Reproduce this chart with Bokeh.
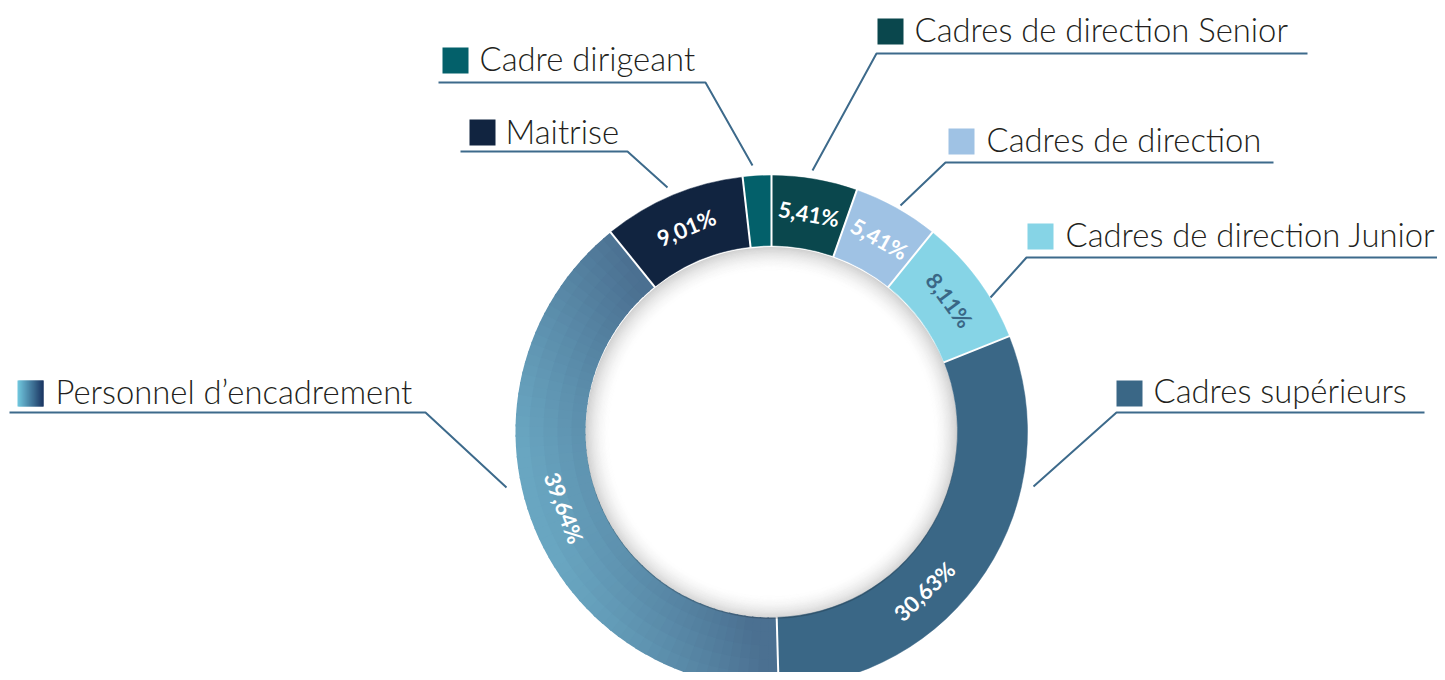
import math
from bokeh.plotting import figure
from bokeh.models import Range1d
from bokeh.core.properties import value
from bokeh.embed import file_html
from bokeh.resources import INLINE

# ---------------- data ----------------
categories = ["Cadres de direction Senior", "Cadres de direction", "Cadres de direction Junior",
              "Cadres supérieurs", "Personnel d\u2019encadrement", "Maitrise", "Cadre dirigeant"]
shares = [5.41, 5.41, 8.11, 30.63, 39.64, 9.01, 1.80]
pct_labels = ["5,41%", "5,41%", "8,11%", "30,63%", "39,64%", "9,01%", ""]

# ---------------- styles ----------------
colors = ["#0a474d", "#9fc2e4", "#86d4e6", "#3a6786", "#5a8cab", "#112440", "#03606a"]
pct_colors = ["white", "white", "#3a6786", "white", "white", "white", "white"]
GRADIENT_INDEX = 4
GRAD_LIGHT = (0x69, 0xa6, 0xc1)
GRAD_DARK = (0x4b, 0x70, 0x91)
SQ_LIGHT = (0x70, 0xc6, 0xdd)
SQ_DARK = (0x1b, 0x36, 0x63)
LINE_COLOR = "#3d6a8b"
TEXT_COLOR = "#231f20"

# ---------------- layout (screen pixels, y down) ----------------
W, H = 1437, 672
CX, CY = 771, 431
R_OUT, R_IN, R_LAB = 256, 186, 221
LABEL_ANGLE_SHIFT = [0, 0, 0, 13, 0, 0, 0]
TEXT_DY = -14  # baseline correction of the svg text renderer
LEGEND = [
    dict(sq=(877, 18), tx=914, ty=43, lead=[(812, 170), (876, 53), (1307, 53)]),
    dict(sq=(948, 128), tx=986, ty=153, lead=[(900, 205), (945, 162), (1273, 162)]),
    dict(sq=(1027, 223), tx=1065, ty=248, lead=[(990, 297), (1026, 257), (1445, 257)]),
    dict(sq=(1116, 380), tx=1153, ty=404, lead=[(1033, 486), (1116, 412), (1424, 412)]),
    dict(sq=(17, 380), tx=55, ty=405, lead=[(506, 487), (425, 412), (9, 412)]),
    dict(sq=(469, 119), tx=505, ty=145, lead=[(667, 187), (627, 151), (460, 151)]),
    dict(sq=(442, 47), tx=479, ty=72, lead=[(752, 165), (705, 82), (438, 82)]),
]
SQ = 26

p = figure(width=W, height=H, output_backend="svg", toolbar_location=None,
           x_axis_type=None, y_axis_type=None,
           x_range=Range1d(0, W), y_range=Range1d(-H, 0),
           min_border=0, outline_line_color=None)
p.grid.visible = False
p.background_fill_color = "white"
p.border_fill_color = "white"


def lerp(c1, c2, u):
    u = max(0.0, min(1.0, u))
    return "#%02x%02x%02x" % tuple(int(round(a + (b - a) * u)) for a, b in zip(c1, c2))


def grad_color(sx, sy):
    t = (sx - 515) + (687 - sy) / 3.0
    return lerp(GRAD_LIGHT, GRAD_DARK, (t - 85) / (256 - 85))


total = sum(shares)
bounds = []
acc = 0.0
for s in shares:
    a0 = acc / total * 360.0
    acc += s
    a1 = acc / total * 360.0
    bounds.append((a0, a1))

# solid slices
st, en, fc = [], [], []
for i, (a0, a1) in enumerate(bounds):
    if i == GRADIENT_INDEX:
        continue
    st.append(math.radians(90 - a1))
    en.append(math.radians(90 - a0))
    fc.append(colors[i])
p.annular_wedge(x=CX, y=-CY, inner_radius=R_IN, outer_radius=R_OUT,
                start_angle=st, end_angle=en, fill_color=fc, line_color=fc, line_width=0.5)

# gradient slice (overlapping pieces, no outlines -> no seams)
a0, a1 = bounds[GRADIENT_INDEX]
NA, NR = 60, 5
gst, gen, gir, gor, gfc = [], [], [], [], []
for ia in range(NA):
    b0 = a0 + (a1 - a0) * ia / NA
    b1 = a0 + (a1 - a0) * (ia + 1) / NA
    b1x = min(a1, b1 + 0.5)
    for ir in range(NR):
        r0 = R_IN + (R_OUT - R_IN) * ir / NR
        r1 = R_IN + (R_OUT - R_IN) * (ir + 1) / NR
        r1x = min(R_OUT, r1 + 1.5)
        bm = math.radians((b0 + b1) / 2)
        rm = (r0 + r1) / 2
        sx = CX + rm * math.sin(bm)
        sy = CY - rm * math.cos(bm)
        gst.append(math.radians(90 - b1x))
        gen.append(math.radians(90 - b0))
        gir.append(r0)
        gor.append(r1x)
        gfc.append(grad_color(sx, sy))
p.annular_wedge(x=CX, y=-CY, inner_radius=gir, outer_radius=gor,
                start_angle=gst, end_angle=gen, fill_color=gfc, line_color=None)

# white separators
sx0, sy0, sx1, sy1 = [], [], [], []
for (b0, _b1) in bounds:
    a = math.radians(b0)
    sx0.append(CX + (R_IN - 1) * math.sin(a))
    sy0.append(-(CY - (R_IN - 1) * math.cos(a)))
    sx1.append(CX + (R_OUT + 1) * math.sin(a))
    sy1.append(-(CY - (R_OUT + 1) * math.cos(a)))
p.segment(x0=sx0, y0=sy0, x1=sx1, y1=sy1, line_color="white", line_width=2)

# inner shadow of the hole
NS = 22
for k in range(NS):
    r_o = R_IN - k * 1.2
    r_i = r_o - 1.2
    alpha = 0.18 * (1 - k / NS) ** 2
    p.annulus(x=CX, y=-CY - 1.5, inner_radius=r_i, outer_radius=r_o,
              fill_color="black", fill_alpha=alpha, line_color=None)

# percentage labels
lx, ly, lt, la, lc = [], [], [], [], []
for i, (a0, a1) in enumerate(bounds):
    if not pct_labels[i]:
        continue
    mid = (a0 + a1) / 2 + LABEL_ANGLE_SHIFT[i]
    m = math.radians(mid)
    lx.append(CX + R_LAB * math.sin(m))
    ly.append(-(CY - R_LAB * math.cos(m)))
    rot = mid
    if 90 < mid < 270:
        rot = mid - 180
    elif mid >= 270:
        rot = mid - 360
    la.append(-math.radians(rot))
    lt.append(pct_labels[i])
    lc.append(pct_colors[i])
p.text(x=lx, y=ly, text=lt, angle=la, text_color=lc, text_align="center",
       text_baseline="middle", text_font=value("Lato"), text_font_style="bold",
       text_font_size="22px")

# leader lines, squares, category texts
for i, lg in enumerate(LEGEND):
    p.line(x=[pt[0] for pt in lg["lead"]], y=[-pt[1] for pt in lg["lead"]],
           line_color=LINE_COLOR, line_width=2)
    sqx, sqy = lg["sq"]
    if i == GRADIENT_INDEX:
        n = 26
        for k in range(n):
            c = lerp(SQ_LIGHT, SQ_DARK, k / (n - 1))
            p.quad(left=sqx + k * SQ / n, right=min(sqx + SQ, sqx + (k + 1) * SQ / n + 1),
                   top=-sqy, bottom=-(sqy + SQ), fill_color=c, line_color=None)
    else:
        p.quad(left=sqx, right=sqx + SQ, top=-sqy, bottom=-(sqy + SQ),
               fill_color=colors[i], line_color=None)

p.text(x=[lg["tx"] for lg in LEGEND], y=[-(lg["ty"] + TEXT_DY) for lg in LEGEND],
       text=categories, text_color=TEXT_COLOR, text_align="left", text_baseline="alphabetic",
       text_font=value("'Lato Light', Lato"), text_font_size="32.8px")

open("out.html", "w").write(file_html(p, INLINE))
